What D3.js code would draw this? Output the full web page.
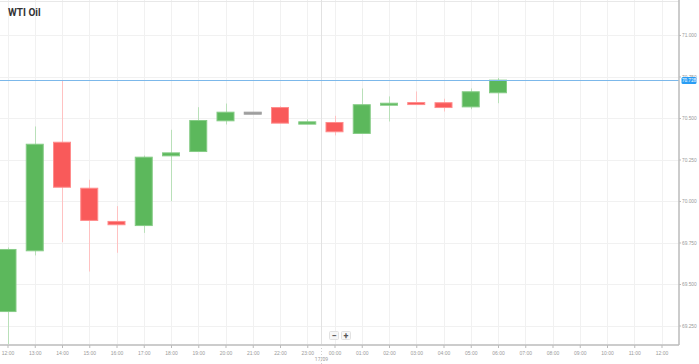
<!DOCTYPE html>
<html>
<head>
<meta charset="utf-8">
<script src="https://cdn.jsdelivr.net/npm/d3@7"></script>
<style>
  body { margin: 0; background: #fff; }
  svg { display: block; font-family: Roboto, "Open Sans", sans-serif; }
</style>
</head>
<body>
<div id="chart"></div>
<script>
// Hourly WTI candles, 16/09 12:00 -> 17/09 06:00
const hours = ["12:00", "13:00", "14:00", "15:00", "16:00", "17:00", "18:00", "19:00", "20:00",
  "21:00", "22:00", "23:00", "00:00", "01:00", "02:00", "03:00", "04:00", "05:00", "06:00"];
const opens  = [69.334, 69.700, 70.354, 70.077, 69.877, 69.852, 70.272, 70.298, 70.483,
  70.535, 70.563, 70.463, 70.473, 70.407, 70.581, 70.593, 70.592, 70.567, 70.652];
const highs  = [69.720, 70.449, 70.726, 70.128, 69.969, 70.274, 70.429, 70.565, 70.587,
  70.535, 70.571, 70.491, 70.513, 70.678, 70.630, 70.660, 70.616, 70.678, 70.742];
const lows   = [69.050, 69.672, 69.752, 69.575, 69.688, 69.808, 69.999, 70.298, 70.461,
  70.535, 70.469, 70.463, 70.395, 70.407, 70.479, 70.587, 70.539, 70.553, 70.589];
const closes = [69.708, 70.342, 70.083, 69.883, 69.857, 70.264, 70.290, 70.485, 70.535,
  70.535, 70.469, 70.477, 70.417, 70.580, 70.589, 70.587, 70.563, 70.658, 70.728];

// x axis labels (the whole 24h window, one per hour)
const axisHours = ["12:00", "13:00", "14:00", "15:00", "16:00", "17:00", "18:00", "19:00", "20:00",
  "21:00", "22:00", "23:00", "00:00", "01:00", "02:00", "03:00", "04:00", "05:00", "06:00",
  "07:00", "08:00", "09:00", "10:00", "11:00", "12:00"];
const yTicks = [69.25, 69.5, 69.75, 70.0, 70.25, 70.5, 70.75, 71.0];
const lastPrice = 70.728;
const title = "WTI Oil";
const dayLabel = "17/09";

const candles = hours.map((h, i) => ({
  i, hour: h, open: opens[i], high: highs[i], low: lows[i], close: closes[i]
}));

const width = 699, height = 364;
const plotRight = 679, plotBottom = 345;

const svg = d3.select("#chart").append("svg")
  .attr("width", width)
  .attr("height", height);

const x = d3.scaleLinear()
  .domain([0, axisHours.length - 1])
  .range([7.5, 661.5]);

const y = d3.scaleLinear()
  .domain([69.25, 71.0])
  .range([325.5, 35]);

svg.append("clipPath").attr("id", "plot-clip")
  .append("rect").attr("x", 0).attr("y", 0).attr("width", plotRight).attr("height", plotBottom);

// grid
const grid = svg.append("g");
grid.selectAll("line.h")
  .data(yTicks)
  .join("line")
  .attr("x1", 0).attr("x2", plotRight)
  .attr("y1", d => Math.round(y(d)) + 0.5).attr("y2", d => Math.round(y(d)) + 0.5)
  .attr("stroke", "#f1f1f1");
grid.selectAll("line.v")
  .data(axisHours.map((d, i) => i))
  .join("line")
  .attr("x1", d => Math.round(x(d)) + 0.5).attr("x2", d => Math.round(x(d)) + 0.5)
  .attr("y1", 0).attr("y2", plotBottom)
  .attr("stroke", "#f1f1f1");

// top border
svg.append("line")
  .attr("x1", 0).attr("x2", plotRight).attr("y1", 1.5).attr("y2", 1.5)
  .attr("stroke", "#e8e8e8");

// day separator between 23:00 and 00:00
const sepX = Math.round(x(11.5)) + 0.5;
svg.append("line")
  .attr("x1", sepX).attr("x2", sepX).attr("y1", 0).attr("y2", plotBottom)
  .attr("stroke", "#e2e2e2");
svg.append("line")
  .attr("x1", sepX).attr("x2", sepX).attr("y1", plotBottom).attr("y2", height)
  .attr("stroke", "#cfcfcf").attr("stroke-dasharray", "1,2");

// candles
const bodyW = 17;
const colorOf = d => d.close > d.open ? "up" : (d.close < d.open ? "down" : "flat");
const fills = { up: "#5cb85c", down: "#f95a5a", flat: "#9e9e9e" };
const strokes = { up: "#86cc86", down: "#ff8c8c", flat: "#9e9e9e" };
const wicks = { up: "#b9e0b9", down: "#ffc2c2", flat: "#9e9e9e" };

const plot = svg.append("g").attr("clip-path", "url(#plot-clip)");

plot.selectAll("line.wick")
  .data(candles)
  .join("line")
  .attr("x1", d => Math.round(x(d.i)) + 0.5)
  .attr("x2", d => Math.round(x(d.i)) + 0.5)
  .attr("y1", d => y(d.high))
  .attr("y2", d => y(d.low))
  .attr("stroke", d => wicks[colorOf(d)]);

plot.selectAll("rect.body")
  .data(candles)
  .join("rect")
  .attr("x", d => x(d.i) - bodyW / 2)
  .attr("y", d => y(Math.max(d.open, d.close)))
  .attr("width", bodyW)
  .attr("height", d => Math.max(2, Math.abs(y(d.open) - y(d.close))))
  .attr("fill", d => fills[colorOf(d)])
  .attr("stroke", d => strokes[colorOf(d)])
  .attr("stroke-width", 1);

// last price line
const lpY = Math.round(y(lastPrice)) + 0.5;
svg.append("line")
  .attr("x1", 0).attr("x2", plotRight).attr("y1", lpY).attr("y2", lpY)
  .attr("stroke", "#7cb8ea");

// x axis
svg.append("g")
  .attr("transform", `translate(0,${plotBottom})`)
  .call(d3.axisBottom(x)
    .tickValues(axisHours.map((d, i) => i))
    .tickFormat(i => axisHours[i])
    .tickSize(3))
  .call(g => g.select(".domain").attr("stroke", "#cccccc").attr("stroke-width", 2).attr("d", `M0,0H${plotRight}`))
  .call(g => g.selectAll(".tick line").attr("stroke", "#bbbbbb"))
  .call(g => g.selectAll("text").attr("fill", "#9a9a9a").style("font-size", "5px").attr("y", 6).attr("dy", "0.7em"));

svg.append("text")
  .attr("x", sepX).attr("y", 361)
  .attr("text-anchor", "middle")
  .attr("fill", "#9a9a9a")
  .style("font-size", "5px")
  .text(dayLabel);

// y axis (right)
svg.append("g")
  .attr("transform", `translate(${plotRight},0)`)
  .call(d3.axisRight(y)
    .tickValues(yTicks)
    .tickFormat(d3.format(".3f"))
    .tickSize(2))
  .call(g => g.select(".domain").attr("stroke", "#bbbbbb").attr("stroke-width", 1.5).attr("d", `M0,0V${plotBottom}`))
  .call(g => g.selectAll(".tick line").attr("stroke", "#bbbbbb"))
  .call(g => g.selectAll("text").attr("fill", "#9a9a9a").style("font-size", "4.8px").attr("x", 3));

// last price badge
const badge = svg.append("g").attr("transform", `translate(681.5,${lpY})`);
badge.append("rect")
  .attr("x", 0).attr("y", -3.5).attr("width", 15).attr("height", 7).attr("rx", 1.5)
  .attr("fill", "#2a9df4");
badge.append("text")
  .attr("x", 7.5).attr("y", 0).attr("dy", "0.35em")
  .attr("text-anchor", "middle")
  .attr("fill", "#ffffff")
  .style("font-size", "4.6px")
  .text(d3.format(".3f")(lastPrice));

// title
svg.append("text")
  .attr("x", 8).attr("y", 16)
  .attr("fill", "#333333")
  .style("font-size", "10px")
  .style("font-weight", "bold")
  .text(title);

// zoom buttons
const btns = svg.append("g");
[["\u2212", 329], ["+", 341]].forEach(([s, bx]) => {
  btns.append("rect")
    .attr("x", bx + 0.5).attr("y", 331.5).attr("width", 9).attr("height", 8).attr("rx", 1)
    .attr("fill", "#f7f7f7").attr("stroke", "#e2e2e2");
  btns.append("text")
    .attr("x", bx + 5).attr("y", 335.5).attr("dy", "0.35em")
    .attr("text-anchor", "middle")
    .attr("fill", "#555")
    .style("font-size", "9px")
    .style("font-weight", "bold")
    .text(s);
});
</script>
</body>
</html>
